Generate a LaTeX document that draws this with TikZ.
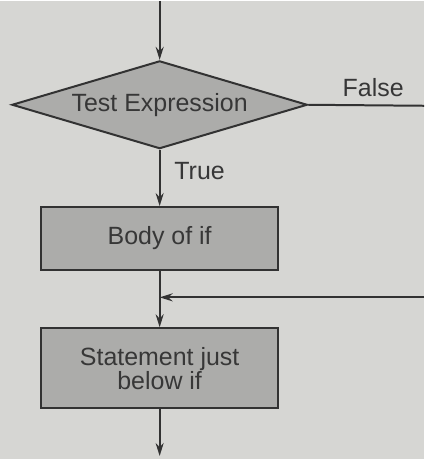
\documentclass[tikz,border=0pt]{standalone}
\usepackage{fontspec}
\setmainfont{Liberation Sans}
\usetikzlibrary{shapes.geometric,arrows.meta}
\begin{document}
\begin{tikzpicture}[
		x=1pt,y=1pt,
		line width=2pt,
		every node/.style={font=\fontsize{25}{24}\selectfont,text=TextGrey},
		khoi/.style={draw=InkGrey,fill=BoxGrey,minimum width=237pt,inner sep=0pt},
		mui/.style={-{Stealth[length=13pt,width=8pt]}}
	]
		\definecolor{PaperGrey}{RGB}{214,214,211}
		\definecolor{BoxGrey}{RGB}{172,172,170}
		\definecolor{InkGrey}{RGB}{50,50,50}
		\definecolor{TextGrey}{RGB}{55,55,55}
		\fill[PaperGrey] (0,0) rectangle (425,459);
		\coordinate (vao) at (160,459);
		\coordinate (ra) at (160,3);
		\coordinate (phai) at (425,354);
		\coordinate (quay) at (425,162);
		\node[khoi,diamond,aspect=3.4,minimum width=296pt,minimum height=88pt] (test)
			at (160,355) {Test Expression};
		\node[khoi,minimum height=63pt] (body)
			at (160,221) {Body of if};
		\node[khoi,minimum height=80pt,align=center] (stmt)
			at (160,91) {Statement just\\below if};
		\node (dung) at (200,289) {True};
		\node (sai) at (374,372) {False};
		\coordinate (noi) at (body.south |- quay);
		\draw[InkGrey,mui] (vao) -- (test.north);
		\draw[InkGrey,mui] (test.south) -- (body.north);
		\draw[InkGrey] (test.east) -- (phai);
		\draw[InkGrey,mui] (body.south) -- (stmt.north);
		\draw[InkGrey,mui] (quay) -- (noi);
		\draw[InkGrey,mui] (stmt.south) -- (ra);
	\end{tikzpicture}
\end{document}
